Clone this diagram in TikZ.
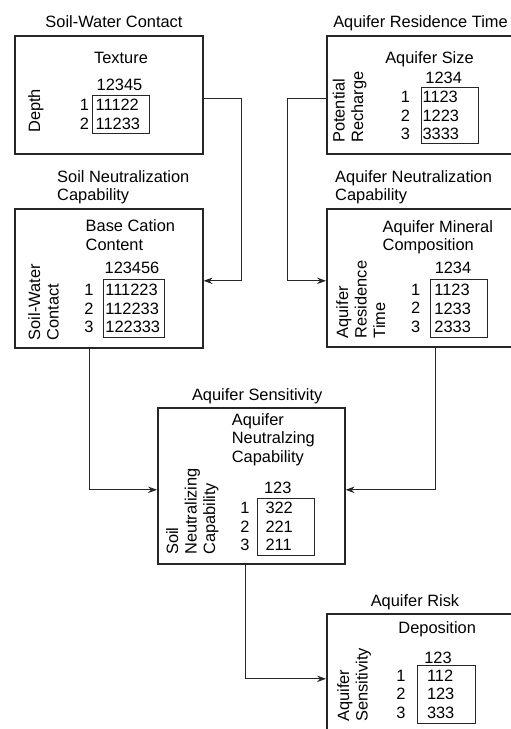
\documentclass[tikz,border=0pt]{standalone}
\usepackage{fontspec}
\setmainfont{Liberation Sans}
\usetikzlibrary{positioning,arrows.meta}
\tikzset{
	mainbox/.style={draw=black!85, line width=1.6pt, anchor=north west, inner sep=0pt},
	tbl/.style={draw=black!85, line width=0.8pt, align=left, anchor=north west, inner ysep=0pt},
	rowlbl/.style={align=center, inner sep=0pt},
	txtblock/.style={align=left, anchor=north west, inner sep=0pt},
	sidelbl/.style={rotate=90, align=left, anchor=north west, inner sep=0pt},
	head/.style={anchor=base, inner sep=0pt},
	link/.style={draw=black!85, line width=0.9pt, -{Stealth[length=9pt,width=6.5pt,inset=3pt]}}
}

\begin{document}
\begin{tikzpicture}[x=1pt, y=-1pt, font=\fontsize{16.4}{18.5}\selectfont]
	\clip (0,0) rectangle (511,729);
	% Soil-Water Contact
	\node[mainbox, minimum width=188pt, minimum height=118pt] (swc) at (14,35) {};
	\node[head] (swcT) at (114,27) {Soil-Water Contact};
	\node[head] (swcC) at (121,63) {Texture};
	\node[head] (swcH) at (119.5,90) {12345};
	\node[tbl, minimum height=38pt, text width=50.4pt, inner xsep=3.3pt] (dtab) at (92,95) {11122\\11233};
	\node[rowlbl, left=2.7pt of dtab] (drow) {1\\2};
	\node[sidelbl] (dside) at (28,133) {Depth};
	% Aquifer Residence Time
	\node[mainbox, minimum width=200pt, minimum height=118pt] (art) at (326,35) {};
	\node[head] (artT) at (420.5,27) {Aquifer Residence Time};
	\node[head] (artC) at (429.5,63) {Aquifer Size};
	\node[head] (artH) at (443.7,83) {1234};
	\node[tbl, minimum height=56pt, text width=54.6pt, inner xsep=1.5pt] (rtab) at (420.7,87.3) {1123\\1223\\3333};
	\node[rowlbl, left=10.6pt of rtab] (rrow) {1\\2\\3};
	\node[sidelbl] (rside) at (332.5,143) {Potential\\Recharge};
	% Soil Neutralization Capability
	\node[mainbox, minimum width=188pt, minimum height=139pt] (snc) at (14,208) {};
	\node[txtblock] (sncT) at (57,170) {Soil Neutralization\\Capability};
	\node[txtblock] (sncC) at (85.5,219.5) {Base Cation\\Content};
	\node[head] (sncH) at (132,273.5) {123456};
	\node[tbl, minimum height=58pt, text width=57pt, inner xsep=2.3pt] (ctab) at (102.7,279.3) {111223\\112233\\122333};
	\node[rowlbl, left=9pt of ctab] (crow) {1\\2\\3};
	\node[sidelbl] (cside) at (28,340.5) {Soil-Water\\Contact};
	% Aquifer Neutralization Capability
	\node[mainbox, minimum width=200pt, minimum height=138pt] (anc) at (326,208) {};
	\node[txtblock] (ancT) at (335,170) {Aquifer Neutralization\\Capability};
	\node[txtblock] (ancC) at (382.5,220) {Aquifer Mineral\\Composition};
	\node[head] (ancH) at (453,273.5) {1234};
	\node[tbl, minimum height=58pt, text width=49pt, inner xsep=4pt] (mtab) at (430,279) {1123\\1233\\2333};
	\node[rowlbl, left=9.6pt of mtab] (mrow) {1\\2\\3};
	\node[sidelbl] (mside) at (336,338.5) {Aquifer\\Residence\\Time};
	% Aquifer Sensitivity
	\node[mainbox, minimum width=187pt, minimum height=156pt] (as) at (157,407) {};
	\node[head] (asT) at (257.2,400) {Aquifer Sensitivity};
	\node[txtblock] (asC) at (231.7,413) {Aquifer\\Neutralzing\\Capability};
	\node[head] (asH) at (277.8,493.5) {123};
	\node[tbl, minimum height=57.3pt, text width=40.5pt, inner xsep=8.4pt] (stab) at (256.7,497.7) {322\\221\\211};
	\node[rowlbl, left=7pt of stab] (srow) {1\\2\\3};
	\node[sidelbl] (sside) at (166,555) {Soil\\Neutralizing\\Capability};
	% Aquifer Risk
	\node[mainbox, minimum width=200pt, minimum height=130pt] (ar) at (326,613) {};
	\node[head] (arT) at (415,606.7) {Aquifer Risk};
	\node[head] (arC) at (437.2,633.3) {Deposition};
	\node[head] (arH) at (438,663.3) {123};
	\node[tbl, minimum height=57.7pt, text width=39pt, inner xsep=9.3pt] (ktab) at (417.3,665) {112\\123\\333};
	\node[rowlbl, left=11.5pt of ktab] (krow) {1\\2\\3};
	\node[sidelbl] (kside) at (337,722) {Aquifer\\Sensitivity};
	% connectors
	\draw[link] ([yshift=-4pt]swc.east) -- ++(38,0) |- ([yshift=-2.5pt]snc.east);
	\draw[link] ([yshift=-4pt]art.west) -- ++(-38.7,0) |- ([yshift=-3pt]anc.west);
	\draw[link] ([xshift=-19pt]snc.south) |- ([yshift=-4pt]as.west);
	\draw[link] ([xshift=8.3pt]anc.south) |- ([yshift=-4pt]as.east);
	\draw[link] ([xshift=-5.5pt]as.south) |- (ar.west);
\end{tikzpicture}
\end{document}
